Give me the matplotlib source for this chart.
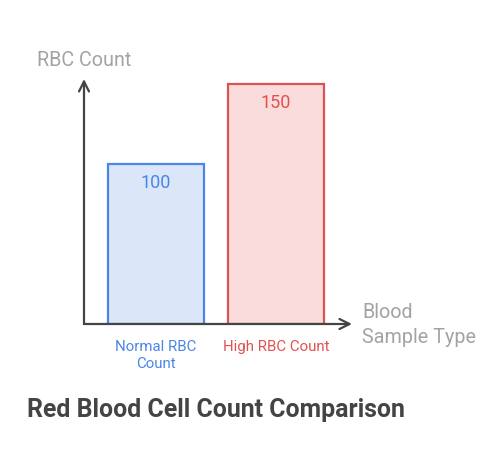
import matplotlib.pyplot as plt

categories = ['Normal RBC\nCount', 'High RBC Count']
values = [100, 150]
edge_colors = ['#4a86e8', '#e05252']
fill_colors = ['#dbe6f8', '#fadcdc']

plt.rcParams['font.family'] = ['Roboto', 'DejaVu Sans']

W, H = 502, 474
fig = plt.figure(figsize=(W / 100, H / 100), dpi=100)
# axes placed in pixel coordinates
left, right, top, bottom = 84, 352, 79, 324
ax = fig.add_axes([left / W, 1 - bottom / H, (right - left) / W, (bottom - top) / H])
ax.set_xlim(-0.6, 1.633)
ax.set_ylim(0, 153)
ax.axis('off')

xs = list(range(len(values)))
for x, v, ec, fc in zip(xs, values, edge_colors, fill_colors):
    ax.bar(x, v, width=0.8, color=fc, edgecolor=ec, linewidth=1.6, zorder=2)
    ax.text(x, v - 6.5, str(v), ha='center', va='top', fontsize=13, color=ec, zorder=3)
    ax.text(x, -10, categories[x], ha='center', va='top', fontsize=10.8, color=ec,
            linespacing=1.3)

# axis arrows
ax.annotate('', xy=(0, 1), xytext=(0, 0), xycoords='axes fraction',
            arrowprops=dict(arrowstyle='->', color='#444444', lw=1.6,
                            mutation_scale=18, shrinkA=0, shrinkB=0), zorder=4)
ax.annotate('', xy=(1, 0), xytext=(0, 0), xycoords='axes fraction',
            arrowprops=dict(arrowstyle='->', color='#444444', lw=1.6,
                            mutation_scale=18, shrinkA=0, shrinkB=0), zorder=4)

fig.text(37 / W, 1 - 60 / H, 'RBC Count', ha='left', va='center', fontsize=14.2, color='#a3a3a3')
fig.text(362 / W, 1 - 325 / H, 'Blood\nSample Type', ha='left', va='center', fontsize=14.2,
         color='#a3a3a3', linespacing=1.45)
fig.text(27 / W, 1 - 410 / H, 'Red Blood Cell Count Comparison', ha='left', va='center',
         fontsize=17.9, fontweight='bold', color='#444444')

fig.savefig('out.png', dpi=100, facecolor='white')
